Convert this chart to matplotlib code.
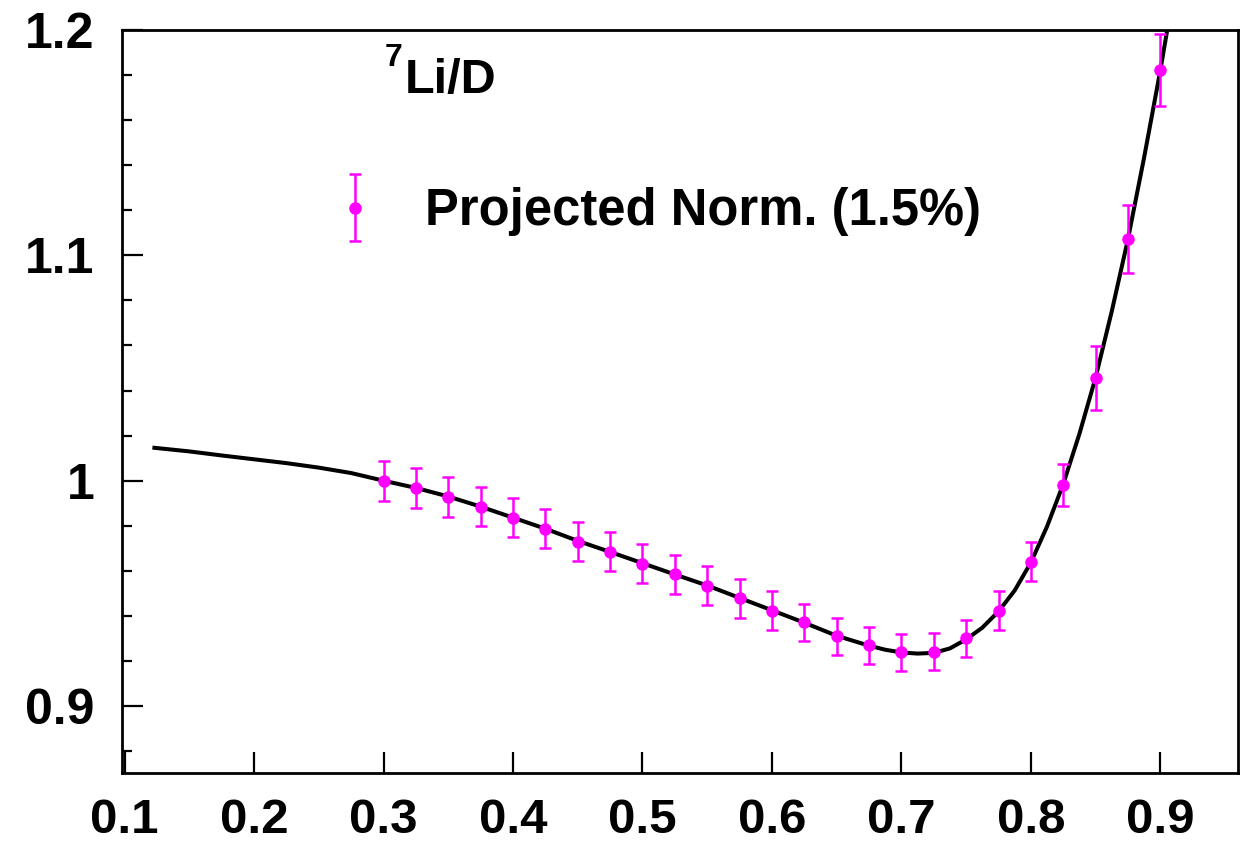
import numpy as np
import matplotlib
matplotlib.use("Agg")
import matplotlib.pyplot as plt
from matplotlib.container import ErrorbarContainer
from matplotlib.legend_handler import HandlerErrorbar
from matplotlib.ticker import MultipleLocator

plt.rcParams["font.family"] = ["Liberation Sans", "DejaVu Sans"]
plt.rcParams["font.weight"] = "bold"

# ---- projected ratio points ----
x_pts = [0.300, 0.325, 0.350, 0.375, 0.400, 0.425, 0.450, 0.475, 0.500,
         0.525, 0.550, 0.575, 0.600, 0.625, 0.650, 0.675, 0.700, 0.725,
         0.750, 0.775, 0.800, 0.825, 0.850, 0.875, 0.900]
y_pts = [1.0000, 0.9969, 0.9929, 0.9885, 0.9836, 0.9787, 0.9730, 0.9685, 0.9632,
         0.9584, 0.9535, 0.9478, 0.9424, 0.9371, 0.9309, 0.9269, 0.9238, 0.9242,
         0.9300, 0.9424, 0.9641, 0.9982, 1.0456, 1.1072, 1.1821]
y_err = [0.0088, 0.0088, 0.0088, 0.0087, 0.0087, 0.0086, 0.0086, 0.0086, 0.0086,
         0.0086, 0.0085, 0.0085, 0.0085, 0.0084, 0.0084, 0.0084, 0.0083, 0.0083,
         0.0084, 0.0086, 0.0087, 0.0093, 0.0142, 0.0150, 0.0160]

# ---- model curve ----
x_curve = [0.123, 0.150, 0.175, 0.200, 0.225, 0.250, 0.275, 0.300, 0.325, 0.350,
           0.375, 0.400, 0.425, 0.450, 0.475, 0.500, 0.525, 0.550, 0.575, 0.600,
           0.625, 0.650, 0.675, 0.6875, 0.700, 0.7125, 0.725, 0.7375, 0.750,
           0.7625, 0.775, 0.7875, 0.800, 0.8125, 0.825, 0.8375, 0.850, 0.8625,
           0.875, 0.8875, 0.900, 0.9125]
y_curve = [1.0146, 1.0130, 1.0112, 1.0095, 1.0078, 1.0058, 1.0034, 1.0000, 0.9968, 0.9930,
           0.9885, 0.9836, 0.9787, 0.9733, 0.9684, 0.9634, 0.9584, 0.9535, 0.9480, 0.9425,
           0.9370, 0.9312, 0.9268, 0.9250, 0.9238, 0.9233, 0.9236, 0.9256, 0.9296,
           0.9348, 0.9420, 0.9513, 0.9637, 0.9797, 0.9985, 1.0208, 1.0458, 1.0752,
           1.1072, 1.1435, 1.1821, 1.2240]

xtick_vals = [0.1, 0.2, 0.3, 0.4, 0.5, 0.6, 0.7, 0.8, 0.9]
xtick_labels = ["0.1", "0.2", "0.3", "0.4", "0.5", "0.6", "0.7", "0.8", "0.9"]
ytick_vals = [0.9, 1.0, 1.1, 1.2]
ytick_labels = ["0.9", "1", "1.1", "1.2"]

MAGENTA = "#ff00ff"

fig = plt.figure(figsize=(12.48, 8.44), dpi=100)
ax = fig.add_axes([0.0978, 0.0841, 0.8942, 0.8804])

ax.plot(x_curve, y_curve, color="black", lw=2.9, zorder=2)
eb = ax.errorbar(x_pts, y_pts, yerr=y_err, fmt="o", color=MAGENTA, ms=8,
                 elinewidth=1.8, capsize=4, capthick=1.8, zorder=3,
                 label="Projected Norm. (1.5%)")

ax.set_xlim(0.098, 0.960)
ax.set_ylim(0.8703, 1.2)
ax.set_xticks(xtick_vals)
ax.set_xticklabels(xtick_labels)
ax.set_yticks(ytick_vals)
ax.set_yticklabels(ytick_labels)
ax.yaxis.set_minor_locator(MultipleLocator(0.02))
ax.tick_params(axis="both", which="major", direction="in", length=15, width=1.6,
               labelsize=36, top=False, right=False)
ax.tick_params(axis="x", pad=18, labelsize=35.5)
ax.tick_params(axis="y", pad=20)
ax.tick_params(axis="y", which="minor", direction="in", length=7, width=1.6, right=False)
for s in ax.spines.values():
    s.set_linewidth(2.0)

# particle label
fig.text(385 / 1248, 1 - 66 / 844, "7", fontsize=23, fontweight="bold",
         ha="left", va="baseline")
fig.text(405 / 1248, 1 - 93 / 844, "Li/D", fontsize=35, fontweight="bold",
         ha="left", va="baseline")

ax.legend(handles=[eb], loc="center left", bbox_to_anchor=(330 / 1248, 1 - 212 / 844),
          bbox_transform=fig.transFigure, frameon=False, fontsize=36.5,
          handlelength=1.0, handletextpad=0.88, borderpad=0, borderaxespad=0,
          handler_map={ErrorbarContainer: HandlerErrorbar(yerr_size=0.66)})

fig.savefig("out.png", dpi=100)
